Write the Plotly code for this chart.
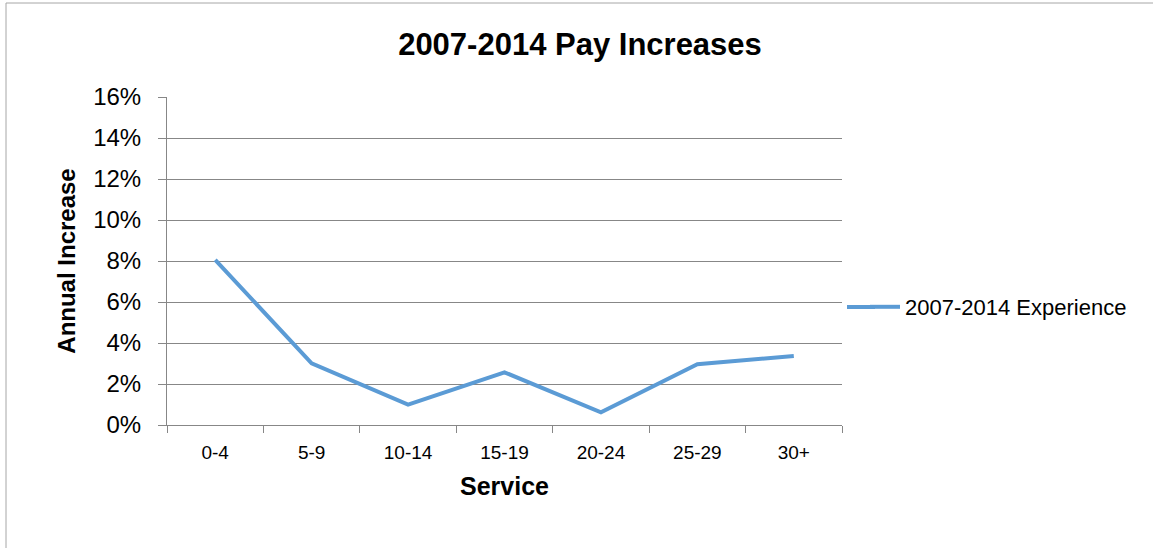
import plotly.graph_objects as go

categories = ["0-4", "5-9", "10-14", "15-19", "20-24", "25-29", "30+"]
values = [0.0805, 0.0301, 0.0099, 0.0257, 0.0062, 0.0296, 0.0337]
series_name = "2007-2014 Experience"
y_ticks = [0, 0.02, 0.04, 0.06, 0.08, 0.10, 0.12, 0.14, 0.16]
y_tick_labels = ["0%", "2%", "4%", "6%", "8%", "10%", "12%", "14%", "16%"]

W, H = 1153, 548
L, R, T, B = 167, 311, 97, 123
pw, ph = W - L - R, H - T - B

line_color = "#5B9BD5"

fig = go.Figure()
fig.add_trace(go.Scatter(
    x=categories, y=values, mode="lines", name=series_name,
    line=dict(color=line_color, width=4),
))

grid = "#878787"
fig.update_layout(
    width=W, height=H, autosize=False,
    margin=dict(l=L, r=R, t=T, b=B),
    paper_bgcolor="white", plot_bgcolor="white",
    font=dict(family="Arial, Liberation Sans, sans-serif", color="black"),
    title=dict(text="<b>2007-2014 Pay Increases</b>", font=dict(size=31),
               x=580 / W, xanchor="center", y=1 - 44 / H, yanchor="middle"),
    showlegend=True,
    legend=dict(x=(865 - L) / pw, y=(425 - 307) / ph, xanchor="left", yanchor="middle",
                font=dict(size=22), bgcolor="rgba(0,0,0,0)"),
    xaxis=dict(
        type="category", range=[-0.5, 6.5],
        showgrid=False, showline=True, linecolor=grid, linewidth=1,
        ticks="outside", tickson="boundaries", ticklen=7, tickcolor=grid,
        tickfont=dict(size=19), ticklabelstandoff=10,
        title=dict(text="<b>Service</b>", font=dict(size=25), standoff=15),
    ),
    yaxis=dict(
        range=[0, 0.16], tickvals=y_ticks, ticktext=y_tick_labels,
        showgrid=True, gridcolor=grid, gridwidth=1,
        showline=True, linecolor=grid, linewidth=1,
        ticks="outside", ticklen=8, tickcolor=grid,
        tickfont=dict(size=24), ticklabelstandoff=12,
        zeroline=False,
        title=dict(text="<b>Annual Increase</b>", font=dict(size=24), standoff=10),
    ),
)

# extend legend swatch to the left (cosmetic, matches reference legend key length)
fig.add_shape(type="line", xref="paper", yref="paper",
              x0=(847 - L) / pw, x1=(875 - L) / pw,
              y0=(425 - 307) / ph, y1=(425 - 307) / ph,
              line=dict(color=line_color, width=4))

# outer chart border (left and top)
x0 = (6 - L) / pw
y0 = (H - B - 3) / ph
fig.add_shape(type="line", xref="paper", yref="paper", x0=x0, x1=x0, y0=y0, y1=-1,
              line=dict(color="#A6A6A6", width=1))
fig.add_shape(type="line", xref="paper", yref="paper", x0=x0, x1=2, y0=y0, y1=y0,
              line=dict(color="#A6A6A6", width=1))

fig.write_html("out.html")
